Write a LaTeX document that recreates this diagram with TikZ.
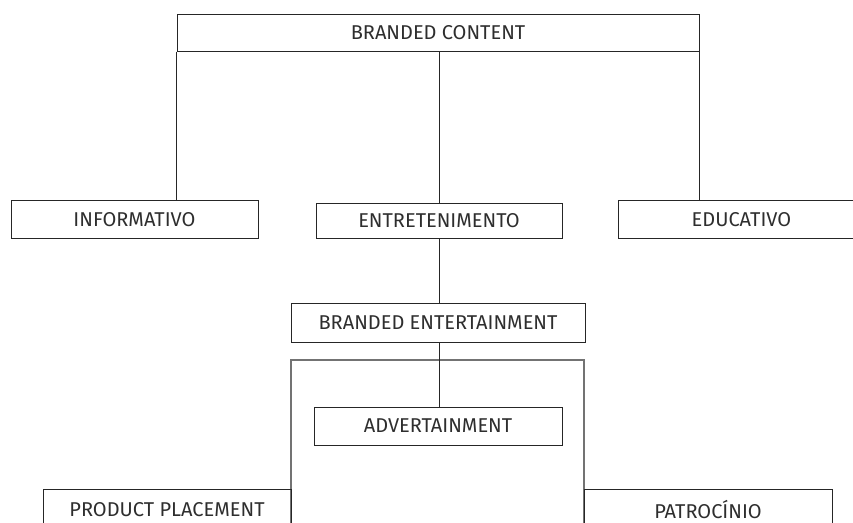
\documentclass[tikz,border=0pt]{standalone}
\usepackage{fontspec}
\setmainfont{Fira Sans}
\begin{document}
\begin{tikzpicture}[x=1pt,y=-1pt,
  lbl/.style={font=\fontsize{20}{22}\selectfont, text=black!82, text depth=0pt},
  box/.style={draw=black!85, line width=1pt, rectangle, inner sep=0pt, lbl},
  frame/.style={draw=black!55, line width=1.3pt, rectangle, inner sep=0pt},
  link/.style={draw=black!85, line width=0.9pt}]
\useasboundingbox (0,0) rectangle (853,522);
\clip (0,0) rectangle (853,522);

% top level
\node[box, minimum width=522pt, minimum height=37pt] (bc) at (438,32.5) {BRANDED CONTENT};

% second level
\node[box, minimum width=247pt, minimum height=38pt] (info) at (134.5,219) {INFORMATIVO};
\node[box, minimum width=246pt, minimum height=35pt] (entr) at (439,220.5) {ENTRETENIMENTO};
\node[box, minimum width=247pt, minimum height=38pt] (educ) at (741.5,219) {EDUCATIVO};

% branded entertainment and its group
\node[box, minimum width=294pt, minimum height=39pt] (be) at (438,322.5) {BRANDED ENTERTAINMENT};
\node[frame, minimum width=293pt, minimum height=180pt] (grp) at (437.5,450) {};
\node[box, minimum width=248pt, minimum height=38pt] (adv) at (438,426) {ADVERTAINMENT};
\node[box, minimum width=248pt, minimum height=40pt] (pp) at (167,509) {PRODUCT PLACEMENT};
\node[box, minimum width=248pt, minimum height=40pt] (pat) at (708,509) {PATROC\'INIO};

% connectors
\draw[link] (bc.south west) -- (bc.south west |- info.north);
\draw[link] (bc.south -| entr.north) -- (entr.north);
\draw[link] (bc.south east) -- (bc.south east |- educ.north);
\draw[link] (entr.south) -- (be.north -| entr.south);
\draw[link] (be.south -| entr.south) -- (adv.north -| entr.south);
\end{tikzpicture}
\end{document}
